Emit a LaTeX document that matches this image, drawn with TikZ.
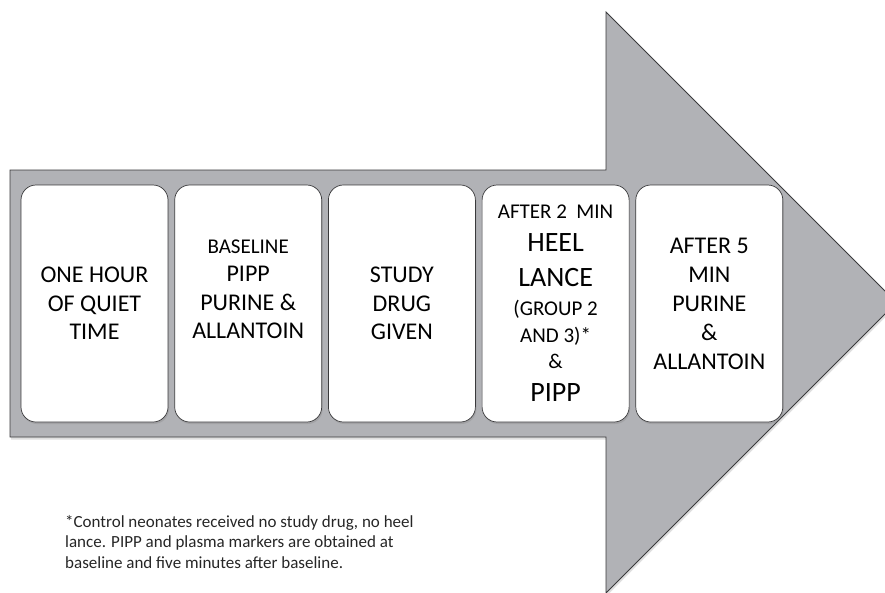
\documentclass[tikz,border=0pt]{standalone}
\usepackage{fontspec}
\setmainfont{Carlito}
\usetikzlibrary{positioning,shadows}
\definecolor{arrowgray}{RGB}{177,178,182}
\definecolor{edgegray}{RGB}{58,58,60}

\begin{document}
\begin{tikzpicture}[x=1pt,y=-1pt]
    \tikzstyle{arrowbody}=[fill=arrowgray,draw=edgegray,line width=0.8pt,
        drop shadow={shadow xshift=1pt,shadow yshift=-2.5pt,opacity=0.25}]
    \tikzstyle{stepbox}=[rectangle,rounded corners=15pt,draw=edgegray,fill=white,
        line width=0.7pt,minimum width=147pt,minimum height=237pt,inner sep=0pt,
        align=center,font=\fontsize{24}{28.5}\selectfont,
        drop shadow={shadow xshift=1pt,shadow yshift=-2pt,opacity=0.3}]
    \useasboundingbox (0,0) rectangle (885,592);
    \clip (0,0) rectangle (885,592);

    % big arrow
    \path[arrowbody] (10,170) -- (606,170) -- (606,12) -- (896.5,302.5)
        -- (606,593) -- (606,437) -- (10,437) -- cycle;

    % the five steps
    \node[stepbox] (Step-1) at (94.5,303.5) {ONE HOUR\\OF QUIET\\TIME};
    \node[stepbox,right=6pt of Step-1] (Step-2)
        {{\fontsize{21}{28.5}\selectfont BASELINE}\\PIPP\\PURINE \&\\ALLANTOIN\\\mbox{}};
    \node[stepbox,right=6pt of Step-2] (Step-3) {STUDY\\DRUG\\GIVEN};
    \node[stepbox,right=6pt of Step-3,font=\fontsize{21}{27}\selectfont] (Step-4)
        {AFTER 2\ \ MIN\\[6pt]
         {\fontsize{28}{27}\selectfont HEEL}\\[8pt]
         {\fontsize{28}{27}\selectfont LANCE}\\[2pt]
         (GROUP 2\\
         AND 3)*\\[-1pt]
         \&\\[6pt]
         {\fontsize{28}{27}\selectfont PIPP}};
    \node[stepbox,right=6pt of Step-4,font=\fontsize{24}{29}\selectfont] (Step-5)
        {AFTER 5\\MIN\\PURINE\\\&\\ALLANTOIN};

    % footnote
    \node[anchor=north west,align=left,inner sep=0pt,font=\fontsize{17}{20.7}\selectfont,text=black!85] (Note) at (65,515)
        {*Control neonates received no study drug, no heel\\
         lance. PIPP and plasma markers are obtained at\\
         baseline and five minutes after baseline.};
\end{tikzpicture}
\end{document}
